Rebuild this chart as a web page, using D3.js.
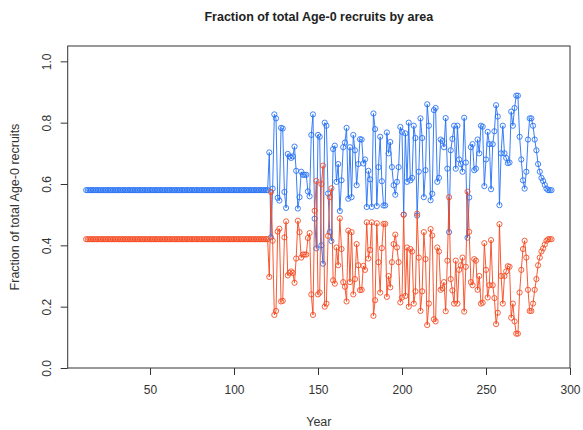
<!DOCTYPE html>
<html>
<head>
<meta charset="utf-8">
<script src="https://cdn.jsdelivr.net/npm/d3@7"></script>
<style>
  html, body { margin: 0; padding: 0; background: #fff; }
  svg { display: block; }
  text { font-family: "Liberation Sans", Arial, Helvetica, sans-serif; }
</style>
</head>
<body>
<svg id="chart" width="583" height="430"></svg>
<script>
// Fraction of total Age-0 recruits in each of two areas, by simulation year.
const firstYear = 12;

// Area 1 (blue) share per year, 12 .. 289
const area1 = [
  0.58, 0.58, 0.58, 0.58, 0.58, 0.58, 0.58, 0.58, 0.58, 0.58,
  0.58, 0.58, 0.58, 0.58, 0.58, 0.58, 0.58, 0.58, 0.58, 0.58,
  0.58, 0.58, 0.58, 0.58, 0.58, 0.58, 0.58, 0.58, 0.58, 0.58,
  0.58, 0.58, 0.58, 0.58, 0.58, 0.58, 0.58, 0.58, 0.58, 0.58,
  0.58, 0.58, 0.58, 0.58, 0.58, 0.58, 0.58, 0.58, 0.58, 0.58,
  0.58, 0.58, 0.58, 0.58, 0.58, 0.58, 0.58, 0.58, 0.58, 0.58,
  0.58, 0.58, 0.58, 0.58, 0.58, 0.58, 0.58, 0.58, 0.58, 0.58,
  0.58, 0.58, 0.58, 0.58, 0.58, 0.58, 0.58, 0.58, 0.58, 0.58,
  0.58, 0.58, 0.58, 0.58, 0.58, 0.58, 0.58, 0.58, 0.58, 0.58,
  0.58, 0.58, 0.58, 0.58, 0.58, 0.58, 0.58, 0.58, 0.58, 0.58,
  0.58, 0.58, 0.58, 0.58, 0.58, 0.58, 0.58, 0.58, 0.58,
  0.703, 0.426, 0.585, 0.827, 0.814, 0.555, 0.546, 0.783, 0.781, 0.574,
  0.522, 0.698, 0.690, 0.685, 0.690, 0.722, 0.643, 0.520, 0.557, 0.640,
  0.630, 0.630, 0.630, 0.576, 0.560, 0.760, 0.827, 0.487, 0.390, 0.760,
  0.754, 0.400, 0.340, 0.800, 0.790, 0.569, 0.443, 0.414, 0.714, 0.725,
  0.607, 0.665, 0.512, 0.612, 0.720, 0.735, 0.783, 0.552, 0.720, 0.557,
  0.760, 0.710, 0.596, 0.665, 0.746, 0.745, 0.667, 0.680, 0.525, 0.643,
  0.615, 0.525, 0.830, 0.779, 0.528, 0.655, 0.754, 0.609, 0.530, 0.530,
  0.768, 0.700, 0.737, 0.655, 0.596, 0.565, 0.607, 0.655, 0.786, 0.770,
  0.500, 0.765, 0.607, 0.800, 0.612, 0.620, 0.790, 0.750, 0.497, 0.640,
  0.814, 0.750, 0.557, 0.645, 0.860, 0.790, 0.547, 0.568, 0.841, 0.848,
  0.607, 0.620, 0.745, 0.740, 0.720, 0.815, 0.650, 0.443, 0.710, 0.747,
  0.790, 0.650, 0.790, 0.680, 0.665, 0.640, 0.816, 0.670, 0.425, 0.556,
  0.720, 0.730, 0.645, 0.650, 0.745, 0.700, 0.790, 0.787, 0.593, 0.680,
  0.770, 0.730, 0.583, 0.730, 0.772, 0.857, 0.820, 0.531, 0.700, 0.790,
  0.700, 0.685, 0.668, 0.670, 0.836, 0.790, 0.848, 0.888, 0.888, 0.754,
  0.680, 0.612, 0.585, 0.640, 0.745, 0.814, 0.814, 0.790, 0.745, 0.710,
  0.665, 0.640, 0.620, 0.610, 0.597, 0.585, 0.580, 0.580, 0.580
];

// Area 2 (red) share per year, 12 .. 289
const area2 = [
  0.42, 0.42, 0.42, 0.42, 0.42, 0.42, 0.42, 0.42, 0.42, 0.42,
  0.42, 0.42, 0.42, 0.42, 0.42, 0.42, 0.42, 0.42, 0.42, 0.42,
  0.42, 0.42, 0.42, 0.42, 0.42, 0.42, 0.42, 0.42, 0.42, 0.42,
  0.42, 0.42, 0.42, 0.42, 0.42, 0.42, 0.42, 0.42, 0.42, 0.42,
  0.42, 0.42, 0.42, 0.42, 0.42, 0.42, 0.42, 0.42, 0.42, 0.42,
  0.42, 0.42, 0.42, 0.42, 0.42, 0.42, 0.42, 0.42, 0.42, 0.42,
  0.42, 0.42, 0.42, 0.42, 0.42, 0.42, 0.42, 0.42, 0.42, 0.42,
  0.42, 0.42, 0.42, 0.42, 0.42, 0.42, 0.42, 0.42, 0.42, 0.42,
  0.42, 0.42, 0.42, 0.42, 0.42, 0.42, 0.42, 0.42, 0.42, 0.42,
  0.42, 0.42, 0.42, 0.42, 0.42, 0.42, 0.42, 0.42, 0.42, 0.42,
  0.42, 0.42, 0.42, 0.42, 0.42, 0.42, 0.42, 0.42, 0.42,
  0.297, 0.574, 0.415, 0.173, 0.186, 0.445, 0.454, 0.217, 0.219, 0.426,
  0.478, 0.302, 0.310, 0.315, 0.310, 0.278, 0.357, 0.480, 0.443, 0.360,
  0.370, 0.370, 0.370, 0.424, 0.440, 0.240, 0.173, 0.513, 0.610, 0.240,
  0.246, 0.600, 0.660, 0.200, 0.210, 0.431, 0.557, 0.586, 0.286, 0.275,
  0.393, 0.335, 0.488, 0.388, 0.280, 0.265, 0.217, 0.448, 0.280, 0.443,
  0.240, 0.290, 0.404, 0.335, 0.254, 0.255, 0.333, 0.320, 0.475, 0.357,
  0.385, 0.475, 0.170, 0.221, 0.472, 0.345, 0.246, 0.391, 0.470, 0.470,
  0.232, 0.300, 0.263, 0.345, 0.404, 0.435, 0.393, 0.345, 0.214, 0.230,
  0.500, 0.235, 0.393, 0.200, 0.388, 0.380, 0.210, 0.250, 0.503, 0.360,
  0.186, 0.250, 0.443, 0.355, 0.140, 0.210, 0.453, 0.432, 0.159, 0.152,
  0.393, 0.380, 0.255, 0.260, 0.280, 0.185, 0.350, 0.557, 0.290, 0.253,
  0.210, 0.350, 0.210, 0.320, 0.335, 0.360, 0.184, 0.330, 0.575, 0.444,
  0.280, 0.270, 0.355, 0.350, 0.255, 0.300, 0.210, 0.213, 0.407, 0.320,
  0.230, 0.270, 0.417, 0.270, 0.228, 0.143, 0.180, 0.469, 0.300, 0.210,
  0.300, 0.315, 0.332, 0.330, 0.164, 0.210, 0.152, 0.112, 0.112, 0.246,
  0.320, 0.388, 0.415, 0.360, 0.255, 0.186, 0.186, 0.210, 0.255, 0.290,
  0.335, 0.360, 0.380, 0.390, 0.403, 0.415, 0.420, 0.420, 0.420
];

const years = area1.map((_, i) => firstYear + i);

const xTicks = [50, 100, 150, 200, 250, 300];
const yTicks = [0.0, 0.2, 0.4, 0.6, 0.8, 1.0];

const titleText = "Fraction of total Age-0 recruits by area";
const xLabel = "Year";
const yLabel = "Fraction of total Age-0 recruits";

const blue = "#2370f5";
const red = "#f5481e";
const ink = "#333";

const svg = d3.select("#chart");
const plot = { left: 67.7, right: 570, top: 46, bottom: 368 };

const x = d3.scaleLinear().domain([1, 300]).range([plot.left, plot.right]);
const y = d3.scaleLinear().domain([0, 1.05]).range([plot.bottom, plot.top]);

// Axes
const xAxis = d3.axisBottom(x).tickValues(xTicks).tickSize(7).tickPadding(10)
  .tickFormat(d3.format("d"));
const yAxis = d3.axisLeft(y).tickValues(yTicks).tickSize(7).tickPadding(5)
  .tickFormat(d3.format(".1f"));

const gx = svg.append("g").attr("transform", `translate(0,${plot.bottom})`).call(xAxis);
gx.select(".domain").remove();
gx.selectAll("line").attr("stroke", ink);
gx.selectAll("text").attr("fill", ink).attr("font-size", 12).attr("dy", "0.71em");

const gy = svg.append("g").attr("transform", `translate(${plot.left},0)`).call(yAxis);
gy.select(".domain").remove();
gy.selectAll("line").attr("stroke", ink);
// y tick labels run parallel to the axis
gy.selectAll(".tick text")
  .attr("fill", ink).attr("font-size", 12)
  .attr("text-anchor", "middle")
  .attr("x", 0).attr("y", 0).attr("dy", "0.35em")
  .attr("transform", "translate(-21,0) rotate(-90)");

// Plot frame
svg.append("rect")
  .attr("x", plot.left).attr("y", plot.top)
  .attr("width", plot.right - plot.left).attr("height", plot.bottom - plot.top)
  .attr("fill", "none").attr("stroke", ink).attr("stroke-width", 1);

// Series: lines with open circles
function drawSeries(values, color) {
  const pts = years.map((yr, i) => [yr, values[i]]);
  const g = svg.append("g");
  g.append("path")
    .datum(pts)
    .attr("fill", "none")
    .attr("stroke", color)
    .attr("stroke-width", 1)
    .attr("stroke-opacity", 0.9)
    .attr("d", d3.line().x(d => x(d[0])).y(d => y(d[1])));
  g.selectAll("circle")
    .data(pts)
    .join("circle")
    .attr("cx", d => x(d[0]))
    .attr("cy", d => y(d[1]))
    .attr("r", 2.6)
    .attr("fill", "none")
    .attr("stroke", color)
    .attr("stroke-width", 1)
    .attr("stroke-opacity", 0.85);
}
drawSeries(area1, blue);
drawSeries(area2, red);

// Titles
svg.append("text")
  .attr("x", (plot.left + plot.right) / 2).attr("y", 21)
  .attr("text-anchor", "middle")
  .attr("font-weight", "bold").attr("font-size", 12.5).attr("fill", "#222")
  .text(titleText);

svg.append("text")
  .attr("x", (plot.left + plot.right) / 2).attr("y", 426)
  .attr("text-anchor", "middle")
  .attr("font-size", 12.5).attr("fill", ink)
  .text(xLabel);

svg.append("text")
  .attr("transform", `translate(19,${(plot.top + plot.bottom) / 2}) rotate(-90)`)
  .attr("text-anchor", "middle")
  .attr("font-size", 12.5).attr("fill", ink)
  .text(yLabel);
</script>
</body>
</html>
